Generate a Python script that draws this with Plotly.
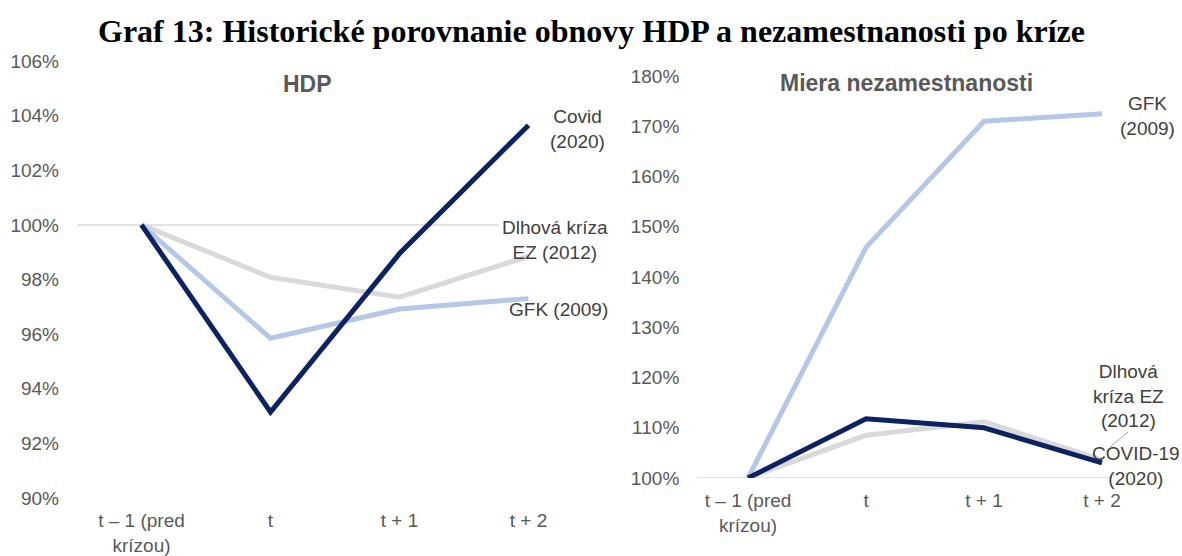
import plotly.graph_objects as go

# ---- data ----
categories = ["t – 1 (pred<br>krízou)", "t", "t + 1", "t + 2"]

hdp_covid = [100, 93.15, 98.95, 103.65]
hdp_gfk = [100, 95.85, 96.92, 97.30]
hdp_dlh = [100, 98.08, 97.35, 98.85]

unemp_gfk = [100, 145.9, 171.0, 172.5]
unemp_covid = [100, 111.8, 110.0, 103.0]
unemp_dlh = [100, 108.5, 111.2, 103.6]

# ---- styles ----
W, H = 1182, 556
DARK = "#0C2262"
LBLUE = "#B4C7E7"
GRAY = "#D9D9D9"
TICK_C = "#595959"
TXT_C = "#404040"
SANS = "Liberation Sans, Arial, sans-serif"
LW = 5


def fx(px):
    return px / W


def fy(py):
    return 1 - py / H


fig = go.Figure()

# left panel (HDP)
fig.add_trace(go.Scatter(x=categories, y=hdp_dlh, mode="lines", line=dict(color=GRAY, width=LW),
                         xaxis="x", yaxis="y", name="Dlhová kríza EZ (2012)", hoverinfo="skip"))
fig.add_trace(go.Scatter(x=categories, y=hdp_gfk, mode="lines", line=dict(color=LBLUE, width=LW),
                         xaxis="x", yaxis="y", name="GFK (2009)", hoverinfo="skip"))
fig.add_trace(go.Scatter(x=categories, y=hdp_covid, mode="lines", line=dict(color=DARK, width=LW),
                         xaxis="x", yaxis="y", name="Covid (2020)", hoverinfo="skip"))

# right panel (unemployment)
fig.add_trace(go.Scatter(x=categories, y=unemp_gfk, mode="lines", line=dict(color=LBLUE, width=LW),
                         xaxis="x2", yaxis="y2", name="GFK (2009)", hoverinfo="skip"))
fig.add_trace(go.Scatter(x=categories, y=unemp_dlh, mode="lines", line=dict(color=GRAY, width=LW),
                         xaxis="x2", yaxis="y2", name="Dlhová kríza EZ (2012)", hoverinfo="skip"))
fig.add_trace(go.Scatter(x=categories, y=unemp_covid, mode="lines", line=dict(color=DARK, width=LW),
                         xaxis="x2", yaxis="y2", name="COVID-19 (2020)", hoverinfo="skip"))

tickfont = dict(family=SANS, size=19, color=TICK_C)

xcommon = dict(type="category", showgrid=False, zeroline=False, showline=False, ticks="",
               tickfont=tickfont, ticklabelstandoff=9, fixedrange=True, automargin=False)
ycommon = dict(showgrid=False, zeroline=False, showline=False, ticks="", ticksuffix="%",
               tickfont=tickfont, ticklabelstandoff=17, fixedrange=True, automargin=False)

fig.update_layout(
    template="none",
    width=W, height=H, autosize=False,
    margin=dict(l=0, r=0, t=0, b=0, pad=0, autoexpand=False),
    paper_bgcolor="white", plot_bgcolor="white",
    showlegend=False,
    xaxis=dict(**xcommon, domain=[fx(77), fx(593)], range=[-0.5, 3.5], anchor="y"),
    yaxis=dict(**ycommon, domain=[fy(498), fy(61)], range=[90, 106], dtick=2, tick0=90, anchor="x"),
    xaxis2=dict(**xcommon, domain=[fx(697.3), fx(1161)], range=[-0.43, 3.5], anchor="y2"),
    yaxis2=dict(**ycommon, domain=[fy(478), fy(76)], range=[100, 180], dtick=10, tick0=100, anchor="x2"),
)

# 100% reference lines
fig.add_shape(type="line", xref="x", yref="y", x0=-0.5, x1=2.77, y0=100, y1=100,
              line=dict(color=GRAY, width=1.5), layer="below")
fig.add_shape(type="line", xref="x2", yref="y2", x0=-0.43, x1=3.08, y0=100, y1=100,
              line=dict(color=GRAY, width=1.5), layer="below")
# leader line
fig.add_shape(type="line", xref="paper", yref="paper", x0=fx(1128), y0=fy(432), x1=fx(1110), y1=fy(447),
              line=dict(color="#A6A6A6", width=1))

ann_font = dict(family=SANS, size=19, color=TXT_C)


def ann(text, x, y, font=ann_font):
    fig.add_annotation(text=text, xref="paper", yref="paper", x=fx(x), y=fy(y),
                       xanchor="center", yanchor="middle", showarrow=False, font=font, align="center")


# title
ann("<b>Graf 13: Historické porovnanie obnovy HDP a nezamestnanosti po kríze</b>", 591, 31,
    dict(family="Liberation Serif, Times New Roman, serif", size=32, color="black"))
# panel titles
ann("<b>HDP</b>", 307, 84, dict(family=SANS, size=23, color=TICK_C))
ann("<b>Miera nezamestnanosti</b>", 907, 83, dict(family=SANS, size=23, color=TICK_C))

# series labels left
ann("Covid<br>(2020)", 577, 129)
ann("Dlhová kríza<br>EZ (2012)", 555, 240)
ann("GFK (2009)", 558, 309)
# series labels right
ann("GFK<br>(2009)", 1147, 116)
ann("Dlhová<br>kríza EZ<br>(2012)", 1128, 396)
ann("COVID-19<br>(2020)", 1136, 466)

fig.write_html("out.html", config={"displayModeBar": False},
               post_script="document.body.style.margin='0';")
